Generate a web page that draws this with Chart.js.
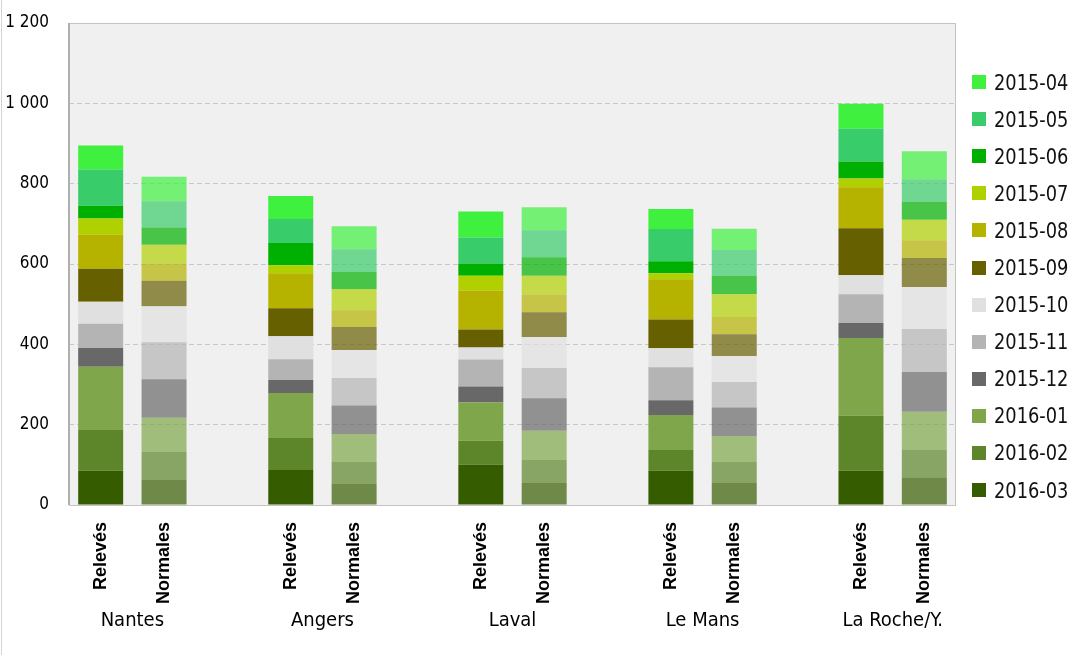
<!DOCTYPE html>
<html>
<head>
<meta charset="utf-8">
<script src="https://cdn.jsdelivr.net/npm/chart.js@4.4.1/dist/chart.umd.min.js"></script>
<style>
  html, body { margin: 0; padding: 0; background: #ffffff; }
  #wrap { position: relative; width: 1092px; height: 655px; overflow: hidden; }
  #frame { position: absolute; left: 1px; top: 0; width: 1px; height: 655px; background: #d4d4d4; }
  #c { position: absolute; left: 0; top: 0; }
  #legend { position: absolute; left: 972px; top: 63.5px; font-family: "DejaVu Sans Condensed", "Liberation Sans Narrow", sans-serif; font-size: 22px; color: #111; }
  .row { height: 37.1px; display: flex; align-items: center; white-space: nowrap; }
  .sw { width: 14px; height: 14px; margin-right: 8px; flex: none; }
  .tx { display: inline-block; transform: scaleX(0.9); transform-origin: left center; }
</style>
</head>
<body>
<div id="wrap">
  <canvas id="c" width="1092" height="655"></canvas>
  <div id="frame"></div>
  <div id="legend"></div>
</div>
<script>
// Months (legend order, top of stack first)
const months = ['2015-04','2015-05','2015-06','2015-07','2015-08','2015-09','2015-10','2015-11','2015-12','2016-01','2016-02','2016-03'];
const monthColors = ['#3ff03f','#38cc6a','#00b000','#b0d000','#b5b200','#666000','#e0e0e0','#b4b4b4','#686868','#7fa64a','#5d852a','#365c00'];

const cities = ['Nantes','Angers','Laval','Le Mans','La Roche/Y.'];
const barKinds = ['Relevés','Normales'];

// Monthly rainfall (mm), in month order above
const nantesReleves    = [60, 90, 32, 40, 85, 82, 55, 60, 47, 157, 102, 85];
const nantesNormales   = [61, 65, 43, 47, 43, 63, 90, 92, 96, 85, 70, 62];
const angersReleves    = [57, 60, 55, 20, 87, 70, 57, 52, 32, 112, 80, 87];
const angersNormales   = [57, 57, 43, 52, 42, 57, 70, 68, 71, 70, 55, 52];
const lavalReleves     = [65, 65, 30, 37, 97, 45, 30, 67, 40, 95, 60, 100];
const lavalNormales    = [57, 67, 46, 47, 44, 62, 77, 75, 81, 73, 57, 55];
const lemansReleves    = [50, 80, 30, 15, 100, 72, 47, 82, 37, 87, 52, 85];
const lemansNormales   = [53, 64, 46, 57, 43, 54, 65, 63, 71, 65, 52, 55];
const larocheReleves   = [62, 82, 42, 22, 102, 117, 47, 72, 37, 194, 137, 85];
const larocheNormales  = [70, 56, 45, 51, 44, 72, 105, 107, 99, 95, 70, 67];

const yTicks = [0, 200, 400, 600, 800, 1000, 1200];

const cityPairs = [
  [nantesReleves, nantesNormales],
  [angersReleves, angersNormales],
  [lavalReleves, lavalNormales],
  [lemansReleves, lemansNormales],
  [larocheReleves, larocheNormales]
];

function hexA(hex, a) {
  const n = parseInt(hex.slice(1), 16);
  return 'rgba(' + (n >> 16) + ',' + ((n >> 8) & 255) + ',' + (n & 255) + ',' + a + ')';
}

// x slots: Relevés, Normales, gap ... (no gap after last)
const labels = [];
const slotKind = []; // 0 releves, 1 normales, -1 gap
cities.forEach((c, i) => {
  labels.push(barKinds[0]); slotKind.push(0);
  labels.push(barKinds[1]); slotKind.push(1);
  if (i < cities.length - 1) { labels.push(''); slotKind.push(-1); }
});

const datasets = [];
for (let m = months.length - 1; m >= 0; m--) {
  const data = [];
  const bg = [];
  let ci = 0;
  slotKind.forEach((k) => {
    if (k === -1) { data.push(null); bg.push('transparent'); ci++; return; }
    data.push(cityPairs[ci][k][m]);
    bg.push(k === 0 ? monthColors[m] : hexA(monthColors[m], 0.7));
  });
  datasets.push({ label: months[m], data: data, backgroundColor: bg, borderWidth: 0, barPercentage: 0.71, categoryPercentage: 1 });
}

const narrow = '"DejaVu Sans Condensed", "Liberation Sans Narrow", sans-serif';

const areaPlugin = {
  id: 'area',
  beforeDraw(chart) {
    const a = chart.chartArea, ctx = chart.ctx;
    ctx.save();
    ctx.fillStyle = '#f0f0f0';
    ctx.fillRect(a.left, a.top, a.right - a.left, a.bottom - a.top);
    ctx.restore();
  },
  beforeDatasetsDraw(chart) {
    const a = chart.chartArea, ctx = chart.ctx;
    ctx.save();
    ctx.strokeStyle = '#c4c4c4';
    ctx.lineWidth = 1;
    ctx.strokeRect(a.left + 0.5, a.top + 0.5, a.right - a.left - 1, a.bottom - a.top);
    ctx.strokeStyle = '#b0b0b0';
    ctx.lineWidth = 2;
    ctx.beginPath(); ctx.moveTo(a.left, a.top); ctx.lineTo(a.left, a.bottom); ctx.stroke();
    ctx.restore();
  },
  afterDraw(chart) {
    const x = chart.scales.x, ctx = chart.ctx;
    ctx.save();
    ctx.fillStyle = '#000';
    ctx.font = '20px ' + narrow;
    ctx.textAlign = 'center';
    ctx.textBaseline = 'middle';
    cities.forEach((c, i) => {
      const px = (x.getPixelForValue(i * 3) + x.getPixelForValue(i * 3 + 1)) / 2;
      ctx.fillText(c, px, 621);
    });
    ctx.restore();
  }
};

new Chart(document.getElementById('c'), {
  type: 'bar',
  data: { labels: labels, datasets: datasets },
  options: {
    responsive: false,
    animation: false,
    layout: { padding: { left: 0, right: 136, top: 23, bottom: 0 } },
    plugins: { legend: { display: false }, tooltip: { enabled: false } },
    scales: {
      x: {
        stacked: true,
        grid: { display: false, drawTicks: false },
        border: { display: false },
        ticks: {
          autoSkip: false, minRotation: 90, maxRotation: 90, padding: 17,
          color: '#000', font: { family: '"Liberation Sans", Arial, sans-serif', weight: 'bold', size: 18 }
        },
        afterFit(s) { s.height = 150; s.paddingLeft = 0; s.paddingRight = 0; }
      },
      y: {
        stacked: true,
        min: 0, max: 1200,
        afterBuildTicks(s) { s.ticks = yTicks.map(v => ({ value: v })); },
        grid: { color: '#c8c8c8', lineWidth: 1, drawTicks: false },
        border: { display: false, dash: [5, 3] },
        ticks: {
          padding: 20, color: '#000',
          font: { family: narrow, size: 17 },
          callback: v => v >= 1000 ? Math.floor(v / 1000) + ' ' + String(v % 1000).padStart(3, '0') : String(v)
        },
        afterFit(s) { s.width = 69; s.paddingTop = 0; s.paddingBottom = 0; }
      }
    }
  },
  plugins: [areaPlugin]
});

// HTML legend
const leg = document.getElementById('legend');
months.forEach((m, i) => {
  const r = document.createElement('div');
  r.className = 'row';
  const sw = document.createElement('span');
  sw.className = 'sw';
  sw.style.background = monthColors[i];
  const t = document.createElement('span');
  t.className = 'tx';
  t.textContent = m;
  r.appendChild(sw); r.appendChild(t);
  leg.appendChild(r);
});
</script>
</body>
</html>
